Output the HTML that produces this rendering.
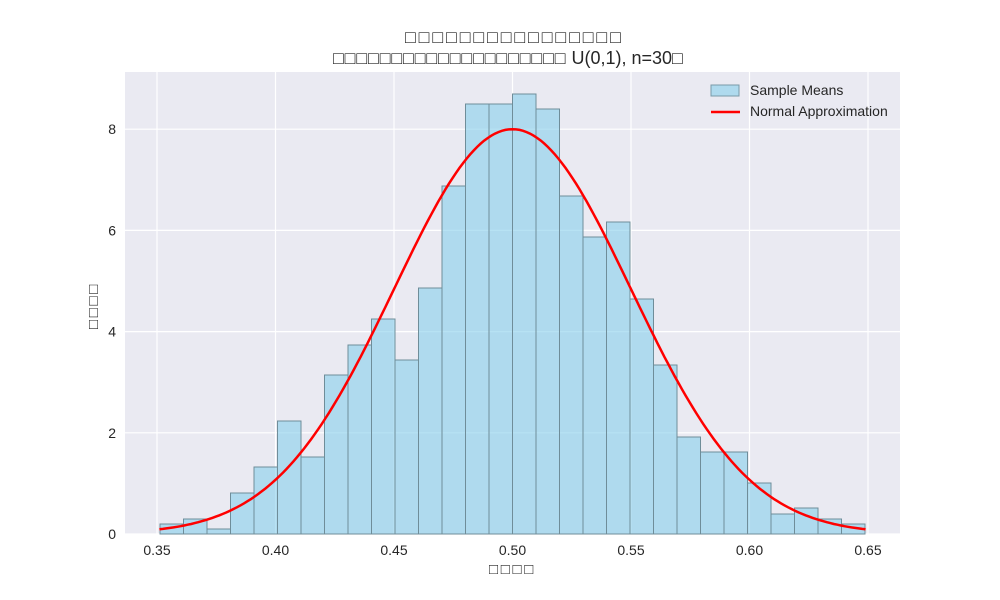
<!DOCTYPE html>
<html><head><meta charset="utf-8"><style>
html,body{margin:0;padding:0;background:#fff;}
svg{display:block;font-family:"Liberation Sans","DejaVu Sans",sans-serif;}
</style></head><body>
<svg id="s" width="1000" height="600" xmlns="http://www.w3.org/2000/svg">
<rect x="125" y="72" width="775" height="462" fill="#eaeaf2"/>
<g id="grid" stroke="#fff" stroke-width="1.2"></g>
<g id="bars"></g>
<polyline id="curve" fill="none" stroke="#ff0000" stroke-width="2.5"/>
<g font-size="14" fill="#262626" id="ticks"></g>
<text x="405" y="43" font-size="18" fill="#262626" letter-spacing="2.8">□□□□□□□□□□□□□□□□</text>
<text x="333" y="64" font-size="18" fill="#262626"><tspan letter-spacing="0.8">□□□□□□□□□□□□□□□□□□□□</tspan> U(0,1), n=30□</text>
<text x="489" y="574" font-size="15" fill="#262626" letter-spacing="2.7">□□□□</text>
<text transform="translate(98,329) rotate(-90)" font-size="15" fill="#262626" letter-spacing="2.7">□□□□</text>
<rect x="711" y="85" width="28" height="11" fill="#87ceeb" fill-opacity="0.6" stroke="#7a9aa8"/>
<line x1="711" y1="112" x2="740" y2="112" stroke="#ff0000" stroke-width="2.5"/>
<text x="750" y="95" font-size="14" fill="#262626">Sample Means</text>
<text x="750" y="116" font-size="14" fill="#262626">Normal Approximation</text>
</svg>
<script>
var ns="http://www.w3.org/2000/svg";
function el(t,a,p){var e=document.createElementNS(ns,t);for(var k in a)e.setAttribute(k,a[k]);document.getElementById(p).appendChild(e);return e;}
function X(v){return 157+(v-0.35)*2370;}
function Y(v){return 534-v*50.6;}
var xs=[0.35,0.40,0.45,0.50,0.55,0.60,0.65];
xs.forEach(function(v){el("line",{x1:X(v),x2:X(v),y1:72,y2:534},"grid");var t=el("text",{x:X(v),y:555,"text-anchor":"middle"},"ticks");t.textContent=v.toFixed(2);});
[0,2,4,6,8].forEach(function(v){el("line",{x1:125,x2:900,y1:Y(v),y2:Y(v)},"grid");var t=el("text",{x:116,y:Y(v)+5,"text-anchor":"end"},"ticks");t.textContent=v;});
var tops=[524,519,529,493,467,421,457,375,345,319,360,288,186,104,104,94,109,196,237,222,299,365,437,452,452,483,514,508,519,524];
var x0=160,w=(865-160)/30;
tops.forEach(function(t,i){el("rect",{x:x0+i*w,y:t,width:w,height:534-t,fill:"#87ceeb","fill-opacity":0.6,stroke:"#6f8d99","stroke-width":1},"bars");});
var s=1/(8*Math.sqrt(2*Math.PI)),pts=[];
for(var i=0;i<=200;i++){var v=0.351+i*(0.649-0.351)/200;var d=Math.exp(-0.5*Math.pow((v-0.5)/s,2))/(s*Math.sqrt(2*Math.PI));pts.push(X(v).toFixed(1)+","+Y(d).toFixed(1));}
document.getElementById("curve").setAttribute("points",pts.join(" "));
</script>
</body></html>
